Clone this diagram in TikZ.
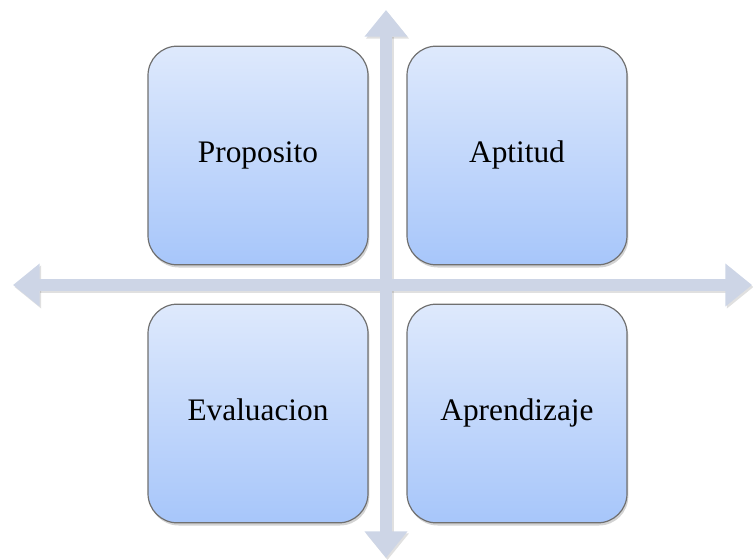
\documentclass[tikz,border=0pt]{standalone}
\usepackage{fontspec}
\setmainfont{Liberation Serif}
\usepackage{tikz}
\usetikzlibrary{
  arrows.meta,
  positioning,
  shadows
}
\definecolor{ejeazul}{RGB}{205,213,230}
\definecolor{cajaarriba}{RGB}{222,233,252}
\definecolor{cajaabajo}{RGB}{167,198,250}
\definecolor{bordecaja}{RGB}{112,112,112}

\begin{document}
\begin{tikzpicture}[
      x=0.75pt, y=-0.75pt,
      cuadrante/.style={draw=bordecaja, line width=0.9pt, rounded corners=22pt, top color=cajaarriba, bottom color=cajaabajo, minimum width=165pt, minimum height=164pt, text height=16pt, text depth=5pt, font=\fontsize{23.5}{28}\selectfont, drop shadow={shadow xshift=1pt, shadow yshift=-2pt, opacity=0.35}},
      eje/.style={{Triangle[width=31pt, length=20pt]}-{Triangle[width=31pt, length=20pt]}, line width=9.5pt, ejeazul},
      sombra/.style={eje, black, opacity=0.12}
  ]
      \useasboundingbox (0,0) rectangle (753,560);

      % Extremos de los ejes
      \coordinate (arriba) at (386,10);
      \coordinate (abajo) at (386,558);
      \coordinate (izq) at (13,285);
      \coordinate (der) at (752,285);

      % Ejes
      \draw[sombra] ([shift={(1.5,2)}]abajo) -- ([shift={(1.5,2)}]arriba);
      \draw[sombra] ([shift={(1.5,2)}]izq) -- ([shift={(1.5,2)}]der);
      \draw[eje] (abajo) -- (arriba);
      \draw[eje] (izq) -- (der);

      % Cuadrantes
      \node[cuadrante] (prop) at (258,155.5) {Proposito};
      \node[cuadrante] (apt) at (517,155.5) {Aptitud};
      \node[cuadrante] (eval) at (258,413.5) {Evaluacion};
      \node[cuadrante] (apr) at (517,413.5) {Aprendizaje};

  \end{tikzpicture}
\end{document}
